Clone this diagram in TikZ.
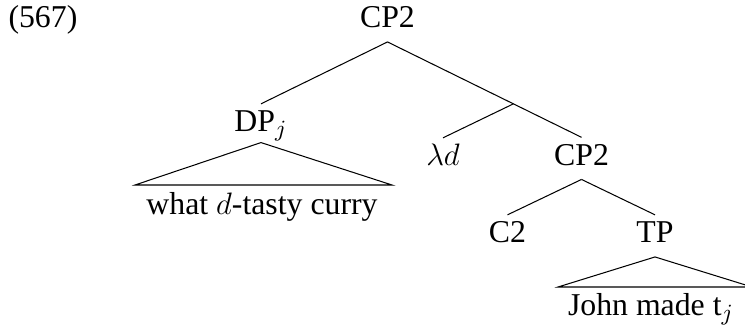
\documentclass[tikz,border=0pt]{standalone}
\usepackage{fontspec}
\setmainfont{Liberation Serif}
\usetikzlibrary{calc}
\tikzset{
  cat/.style={anchor=base, text height=8pt, text depth=2.5pt, inner xsep=0pt, inner ysep=2.7pt, font=\fontsize{12.3}{14}\selectfont},
  leaf/.style={anchor=base, inner sep=0pt, font=\fontsize{12.3}{14}\selectfont},
  branch/.style={line width=0.4pt},
}
\begin{document}
\begin{tikzpicture}[x=0.387pt,y=-0.387pt]
\useasboundingbox (0,0) rectangle (745,327);
\clip (0,0) rectangle (745,327);
\node[leaf, anchor=base west] (ex) at (8,28) {(567)};
\node[cat] (cp) at (387.5,28) {CP2};
\node[cat] (dp) at (261,132) {DP$_j$};
\node[cat] (lam) at (443,166) {$\lambda d$};
\node[cat] (cpb) at (581.5,165.5) {CP2};
\node[cat] (c2) at (507.5,243) {C2};
\node[cat] (tp) at (655,243) {TP};
\node[leaf] (l1) at (262,215) {what $d$-tasty curry};
\node[leaf] (l2) at (651,316) {John made t$_j$};
\coordinate (m) at ($(cp.south)!0.649!(cpb.north)$);
\coordinate (r1a) at (135,185);
\coordinate (r1b) at (392,185);
\coordinate (r2a) at (558,287);
\coordinate (r2b) at (752,287);
\draw[branch] (cp.south) -- (dp.north);
\draw[branch] (cp.south) -- (m) -- (cpb.north);
\draw[branch] (m) -- (lam.north);
\draw[branch] (cpb.south) -- (c2.north);
\draw[branch] (cpb.south) -- (tp.north);
\draw[branch] ([yshift=1.3pt]dp.south) -- (r1a) -- (r1b) -- cycle;
\draw[branch] (tp.south) -- (r2a) -- (r2b) -- cycle;
\end{tikzpicture}
\end{document}
